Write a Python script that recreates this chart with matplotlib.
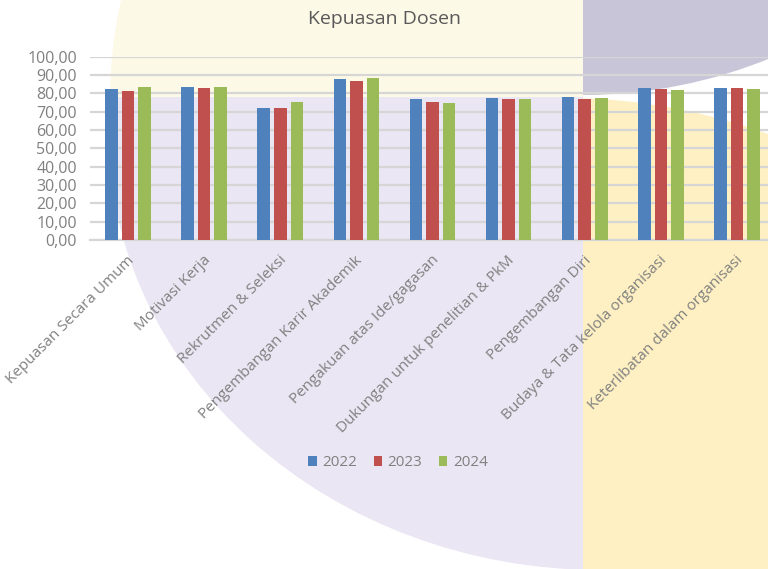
# Kepuasan Dosen - grafik batang per tahun

import numpy as np
import matplotlib
matplotlib.use('Agg')
import matplotlib.pyplot as plt
from matplotlib.patches import Ellipse, Circle, Rectangle
from matplotlib.transforms import ScaledTranslation

# Data
kategori = ['Kepuasan Secara Umum', 'Motivasi Kerja', 'Rekrutmen & Seleksi',
            'Pengembangan Karir Akademik', 'Pengakuan atas Ide/gagasan',
            'Dukungan untuk penelitian & PkM', 'Pengembangan Diri',
            'Budaya & Tata kelola organisasi', 'Keterlibatan dalam organisasi']
tahun = ['2022', '2023', '2024']
nilai_2022 = [82.2, 83.6, 72.2, 87.6, 76.7, 77.6, 78.2, 83.1, 83.1]
nilai_2023 = [81.3, 82.7, 72.2, 86.7, 75.3, 76.7, 76.7, 82.2, 82.7]
nilai_2024 = [83.6, 83.6, 75.3, 88.2, 74.7, 76.7, 77.6, 81.6, 82.2]
warna = ['#4f81bd', '#c0504d', '#9bbb59']

plt.rcParams['font.family'] = ['Open Sans', 'DejaVu Sans']
abu = '#808080'

fig = plt.figure(figsize=(7.68, 5.69), dpi=100)

# Latar belakang dekoratif (koordinat piksel)
bg = fig.add_axes([0, 0, 1, 1], zorder=-1)
bg.set_xlim(0, 768)
bg.set_ylim(569, 0)
bg.axis('off')

def bentuk(patch, klip, warna_isi):
    patch.set_facecolor(warna_isi)
    patch.set_edgecolor('none')
    bg.add_patch(patch)
    patch.set_clip_path(Rectangle(klip[:2], klip[2], klip[3], transform=bg.transData))

bentuk(Ellipse((600, 130), 984, 880), (0, 97, 583, 500), '#ebe6f3')
bentuk(Ellipse((600, 100), 980, 950), (0, 0, 583, 97), '#fdf9e7')
bentuk(Circle((583, -400), 495), (583, 0, 200, 200), '#c9c5d9')
bentuk(Circle((565, 690), 592), (583, 0, 200, 600), '#fef0c2')

# Grafik utama
ax = fig.add_axes([90 / 768, 1 - 240 / 569, 685 / 768, 183.3 / 569])
ax.patch.set_alpha(0)
x = np.arange(len(kategori))
lebar = 0.165
geser = 0.217
for i, (nilai, lbl) in enumerate(zip([nilai_2022, nilai_2023, nilai_2024], tahun)):
    ax.bar(x + (i - 1) * geser, nilai, lebar, color=warna[i], label=lbl, zorder=3)

ax.set_xlim(-0.5, len(kategori) - 0.5)
ax.set_ylim(0, 100)
ax.set_yticks(np.arange(0, 101, 10))
ax.set_yticklabels([f'{v:.2f}'.replace('.', ',') for v in np.arange(0, 101, 10)])
ax.yaxis.grid(True, color='#d6d6d6', lw=1.6)
ax.set_axisbelow(True)
for s in ['top', 'right', 'left']:
    ax.spines[s].set_visible(False)
ax.spines['bottom'].set_color('#d6d6d6')
ax.spines['bottom'].set_linewidth(1.6)
ax.tick_params(axis='y', length=0, pad=9.5, labelsize=11.5, labelcolor=abu)
ax.tick_params(axis='x', length=0, pad=13, labelsize=11, labelcolor=abu)

ax.set_xticks(x)
ax.set_xticklabels(kategori, rotation=45, ha='right', va='center', rotation_mode='anchor')
for t in ax.get_xticklabels():
    t.set_transform(t.get_transform() + ScaledTranslation(4 / 100, 0, fig.dpi_scale_trans))

fig.text(384 / 768, 1 - 18.5 / 569, 'Kepuasan Dosen', ha='center', va='center',
         fontsize=14, color='#595959')

fig.legend(loc='center', bbox_to_anchor=(398 / 768, 1 - 463 / 569), ncol=3,
           frameon=False, fontsize=11, labelcolor=abu, handlelength=0.55,
           handleheight=0.55, handletextpad=0.35, columnspacing=1.1)

plt.savefig('out.png', dpi=100)
